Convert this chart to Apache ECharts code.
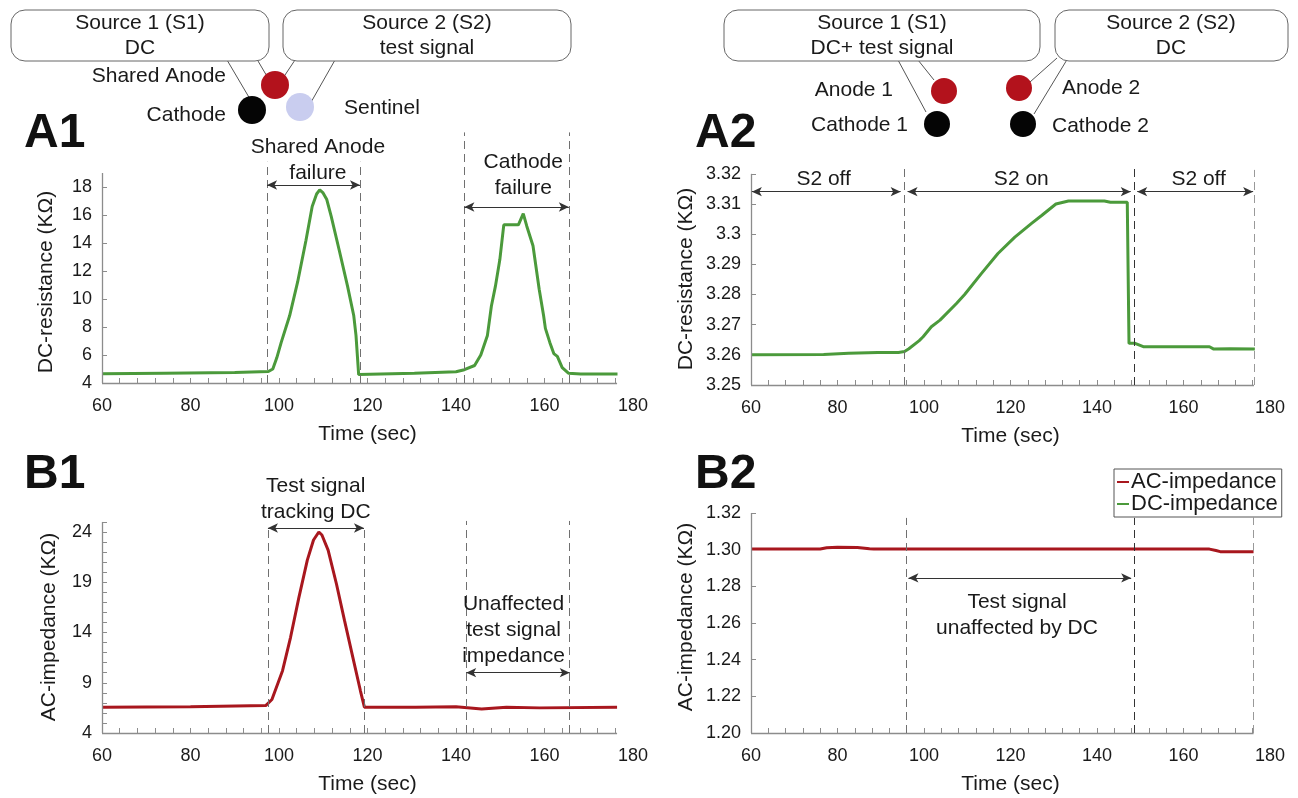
<!DOCTYPE html>
<html><head><meta charset="utf-8">
<script src="https://cdn.jsdelivr.net/npm/echarts@6/dist/echarts.min.js"></script>
<style>html,body{margin:0;padding:0;background:#fff}#c{width:1298px;height:798px}</style>
</head><body><div id="c"></div>
<script>
const FONT = '"Liberation Sans", Arial, Helvetica, sans-serif';

// ---------- data ----------
const a1Time = [60, 74, 90, 97.6, 98.6, 99.5, 100.5, 102.4, 104.2, 106.1, 107.5, 108.5, 109.2, 109.9, 110.8, 111.8, 113.6, 115.5, 116.9, 117.4, 118.0, 118.4, 130.6, 140, 141.9, 144.2, 145.6, 147.1, 148, 148.9, 149.9, 150.8, 151.5, 154.1, 155.2, 156, 157.4, 158.8, 159.8, 160.2, 161.2, 162.1, 162.9, 164, 165.4, 168.2, 176.5];
const a1Res  = [4.66, 4.7, 4.75, 4.82, 5.0, 5.8, 6.9, 8.8, 11.2, 14.2, 16.6, 17.5, 17.8, 17.6, 17.1, 15.9, 13.5, 10.9, 8.8, 7.4, 4.6, 4.66, 4.7, 4.8, 4.95, 5.25, 6.0, 7.4, 9.5, 10.9, 12.8, 15.3, 15.3, 15.3, 16.1, 15.2, 13.8, 10.7, 8.8, 7.9, 6.9, 6.1, 5.9, 5.1, 4.7, 4.65, 4.65];

const a2Time = [60, 76.8, 82.6, 89.3, 94.1, 95.5, 96.5, 98.9, 99.8, 101.7, 103.7, 107.5, 109.4, 113.3, 117.1, 121, 124.8, 127.2, 130.5, 133.4, 141.7, 143.1, 147.0, 147.4, 148.8, 150.7, 156.4, 166, 167, 170.8, 176.5];
const a2Res  = [3.2600, 3.2601, 3.2605, 3.2608, 3.2608, 3.2611, 3.2620, 3.2647, 3.2660, 3.2693, 3.2715, 3.2770, 3.2800, 3.2870, 3.2936, 3.2990, 3.3035, 3.3062, 3.3100, 3.3110, 3.3110, 3.3106, 3.3106, 3.2638, 3.2638, 3.2627, 3.2627, 3.2627, 3.2619, 3.2620, 3.2619];

const b1Time = [60, 80, 97, 98.4, 100.8, 102.6, 104.5, 106.4, 107.8, 109, 109.7, 111.1, 113, 114.8, 116.7, 118.4, 119.3, 130.8, 140, 145.8, 151.4, 158.9, 176.4];
const b1Imp  = [6.57, 6.62, 6.73, 7.33, 10.2, 13.5, 17.5, 21.2, 23.2, 24.0, 23.7, 22.2, 18.8, 15.2, 11.5, 8.2, 6.57, 6.57, 6.6, 6.4, 6.57, 6.5, 6.57];

const b2Time = [60, 76, 77.5, 80, 84.6, 87.4, 88.4, 120, 166, 167.5, 168.5, 176.2];
const b2Imp  = [1.3003, 1.3003, 1.3010, 1.3013, 1.3012, 1.3005, 1.3003, 1.3003, 1.3003, 1.2995, 1.2989, 1.2989];

// tick / label values
const xLabels = [60, 80, 100, 120, 140, 160, 180];
const xTicks = [60, 64, 68, 72, 76, 80, 84, 88, 92, 96, 100, 104, 108, 112, 116, 120, 124, 128, 132, 136, 140, 144, 148, 152, 156, 160, 164, 168, 172, 176];
const a1YLabels = [4, 6, 8, 10, 12, 14, 16, 18];
const a2YLabels = [3.25, 3.26, 3.27, 3.28, 3.29, 3.30, 3.31, 3.32];
const b1YLabels = [4, 9, 14, 19, 24];
const b1YTicks = [4,5,6,7,8,9,10,11,12,13,14,15,16,17,18,19,20,21,22,23,24,25];
const b2YLabels = [1.20, 1.22, 1.24, 1.26, 1.28, 1.30, 1.32];

const GREEN = '#4b9a3b', RED = '#a8171e', AXIS = '#8c8c8c', DASH = '#707070', INK = '#1a1a1a';

const zip = (t, v) => t.map((x, i) => [x, v[i]]);

function axisL(x0, x1, y0, y1) {
  const ls = {color: AXIS, width: 1.3, type: 'solid'};
  return [[{coord: [x0, y0], lineStyle: ls}, {coord: [x1, y0]}],
          [{coord: [x0, y0], lineStyle: ls}, {coord: [x0, y1]}]];
}
function vdash(x, y0, y1, color) {
  return [{coord: [x, y0], lineStyle: {color: color || DASH, width: 1, type: [8, 5]}}, {coord: [x, y1]}];
}
function arrow(x0, x1, y) {
  return [{coord: [x0, y], symbol: 'arrow', symbolSize: [7, 10], lineStyle: {color: '#333', width: 1.2, type: 'solid'}},
          {coord: [x1, y], symbol: 'arrow', symbolSize: [7, 10]}];
}
function txt(x, y, text) {
  return {coord: [x, y], symbol: 'rect', symbolSize: 1, itemStyle: {color: 'rgba(0,0,0,0)'},
    label: {show: true, position: 'inside', formatter: text, color: INK, fontSize: 21, lineHeight: 26, fontFamily: FONT}};
}

function xAxisCfg(grid) {
  return {
    type: 'value', gridIndex: grid, min: 60, max: 180,
    name: 'Time (sec)', nameLocation: 'middle', nameGap: 41,
    nameTextStyle: {color: INK, fontSize: 21, fontFamily: FONT},
    axisLine: {show: false}, splitLine: {show: false},
    axisTick: {show: true, inside: true, length: 5, customValues: xTicks, lineStyle: {color: AXIS}},
    axisLabel: {customValues: xLabels, color: INK, fontSize: 18, fontFamily: FONT, margin: 14}
  };
}
function yAxisCfg(grid, min, max, labels, ticks, fmt) {
  return {
    type: 'value', gridIndex: grid, min: min, max: max,
    axisLine: {show: false}, splitLine: {show: false},
    axisTick: {show: true, inside: true, length: 5, customValues: ticks || labels, lineStyle: {color: AXIS}},
    axisLabel: {customValues: labels, color: INK, fontSize: 18, fontFamily: FONT, margin: 10,
      formatter: fmt || (v => String(+(+v).toFixed(2)))}
  };
}

const mlBase = {silent: true, symbol: 'none', label: {show: false}, animation: false, emphasis: {disabled: true}};
const mpBase = {silent: true, animation: false, emphasis: {disabled: true}};

const option = {
  animation: false,
  textStyle: {fontFamily: FONT},
  grid: [
    {left: 102, width: 531, top: 131, height: 252},
    {left: 751, width: 519, top: 166.3, height: 218.7},
    {left: 102, width: 531, top: 471.7, height: 261.3},
    {left: 751, width: 519, top: 509.3, height: 223.7}
  ],
  xAxis: [xAxisCfg(0), xAxisCfg(1), xAxisCfg(2), xAxisCfg(3)],
  yAxis: [
    yAxisCfg(0, 4, 22, a1YLabels),
    yAxisCfg(1, 3.25, 3.3225, a2YLabels),
    yAxisCfg(2, 4, 30, b1YLabels, b1YTicks),
    yAxisCfg(3, 1.20, 1.322, b2YLabels, null, v => (+v).toFixed(2))
  ],
  legend: {
    orient: 'vertical', left: 1114, top: 469,
    data: [{name: 'AC-impedance', icon: 'rect'}, {name: 'DC-impedance', icon: 'rect'}],
    itemWidth: 12, itemHeight: 2, itemGap: 0, padding: [2, 4, 2, 3],
    borderColor: '#555', borderWidth: 1, selectedMode: false,
    textStyle: {color: INK, fontSize: 22, fontFamily: FONT, lineHeight: 22, padding: [0, 0, 0, -3]}
  },
  series: [
    {
      name: 'A1 DC-resistance', type: 'line', xAxisIndex: 0, yAxisIndex: 0,
      data: zip(a1Time, a1Res), showSymbol: false, color: GREEN, lineStyle: {width: 3, color: GREEN},
      markLine: Object.assign({}, mlBase, {data: [
        ...axisL(60, 176.4, 4, 19),
        vdash(97.3, 4, 19.8), vdash(118.3, 4, 19.8), vdash(141.9, 4, 21.9), vdash(165.5, 4, 21.9),
        arrow(97.3, 118.3, 18.14), arrow(141.9, 165.5, 16.57)
      ]}),
      markPoint: Object.assign({}, mpBase, {data: [
        txt(108.8, 19.93, 'Shared Anode\nfailure'),
        txt(155.2, 18.86, 'Cathode\nfailure')
      ]})
    },
    {
      name: 'A2 DC-resistance', type: 'line', xAxisIndex: 1, yAxisIndex: 1,
      data: zip(a2Time, a2Res), showSymbol: false, color: GREEN, lineStyle: {width: 3, color: GREEN},
      markLine: Object.assign({}, mlBase, {data: [
        ...axisL(60, 176.3, 3.25, 3.32),
        vdash(95.4, 3.25, 3.3219), vdash(148.6, 3.25, 3.3219, '#333'), vdash(176.3, 3.25, 3.3213, '#999'),
        arrow(60.2, 94.6, 3.3141), arrow(96.2, 147.8, 3.3141), arrow(149.3, 176.1, 3.3141)
      ]}),
      markPoint: Object.assign({}, mpBase, {data: [
        txt(76.8, 3.3183, 'S2 off'),
        txt(122.5, 3.3183, 'S2 on'),
        txt(163.5, 3.3183, 'S2 off')
      ]})
    },
    {
      name: 'B1 AC-impedance', type: 'line', xAxisIndex: 2, yAxisIndex: 2,
      data: zip(b1Time, b1Imp), showSymbol: false, color: RED, lineStyle: {width: 3, color: RED},
      markLine: Object.assign({}, mlBase, {data: [
        ...axisL(60, 176.4, 4, 25),
        vdash(97.5, 4, 24.6), vdash(119.2, 4, 24.6), vdash(142.3, 4, 25.1), vdash(165.7, 4, 25.1),
        arrow(97.5, 119.2, 24.4), arrow(142.3, 165.7, 10.0)
      ]}),
      markPoint: Object.assign({}, mpBase, {data: [
        txt(108.3, 27.3, 'Test signal\ntracking DC'),
        txt(153.0, 14.25, 'Unaffected\ntest signal\nimpedance')
      ]})
    },
    {
      name: 'AC-impedance', type: 'line', xAxisIndex: 3, yAxisIndex: 3,
      data: zip(b2Time, b2Imp), showSymbol: false, color: RED, lineStyle: {width: 3, color: RED},
      markLine: Object.assign({}, mlBase, {data: [
        ...axisL(60, 176.2, 1.20, 1.32),
        vdash(96.0, 1.20, 1.3173), vdash(148.5, 1.20, 1.3173, '#333'), vdash(176.2, 1.20, 1.32, '#999'),
        arrow(96.4, 147.9, 1.2846)
      ]}),
      markPoint: Object.assign({}, mpBase, {data: [
        txt(121.5, 1.2644, 'Test signal\nunaffected by DC')
      ]})
    },
    {
      name: 'DC-impedance', type: 'line', xAxisIndex: 3, yAxisIndex: 3,
      data: [], showSymbol: false, color: GREEN, lineStyle: {width: 3, color: GREEN}
    }
  ],
  graphic: [
    // panel labels
    {type: 'text', x: 24, y: 134, style: {text: 'A1', fontSize: 48, fontWeight: 'bold', fontFamily: FONT, fill: '#111', verticalAlign: 'middle'}},
    {type: 'text', x: 695, y: 134, style: {text: 'A2', fontSize: 48, fontWeight: 'bold', fontFamily: FONT, fill: '#111', verticalAlign: 'middle'}},
    {type: 'text', x: 24, y: 475, style: {text: 'B1', fontSize: 48, fontWeight: 'bold', fontFamily: FONT, fill: '#111', verticalAlign: 'middle'}},
    {type: 'text', x: 695, y: 475, style: {text: 'B2', fontSize: 48, fontWeight: 'bold', fontFamily: FONT, fill: '#111', verticalAlign: 'middle'}},
    // y axis names
    {type: 'text', x: 46, y: 282, rotation: Math.PI / 2, style: {text: 'DC-resistance (KΩ)', fontSize: 21, fontFamily: FONT, fill: INK, align: 'center', verticalAlign: 'middle'}},
    {type: 'text', x: 686, y: 279, rotation: Math.PI / 2, style: {text: 'DC-resistance (KΩ)', fontSize: 21, fontFamily: FONT, fill: INK, align: 'center', verticalAlign: 'middle'}},
    {type: 'text', x: 49, y: 627, rotation: Math.PI / 2, style: {text: 'AC-impedance (KΩ)', fontSize: 21, fontFamily: FONT, fill: INK, align: 'center', verticalAlign: 'middle'}},
    {type: 'text', x: 686, y: 617, rotation: Math.PI / 2, style: {text: 'AC-impedance (KΩ)', fontSize: 21, fontFamily: FONT, fill: INK, align: 'center', verticalAlign: 'middle'}},

    // ---- A1 diagram ----
    {type: 'line', shape: {x1: 227, y1: 60, x2: 250, y2: 99}, style: {stroke: '#555', lineWidth: 1}},
    {type: 'line', shape: {x1: 258, y1: 61, x2: 268, y2: 78}, style: {stroke: '#555', lineWidth: 1}},
    {type: 'line', shape: {x1: 295, y1: 60, x2: 283, y2: 78}, style: {stroke: '#555', lineWidth: 1}},
    {type: 'line', shape: {x1: 335, y1: 60, x2: 310, y2: 104}, style: {stroke: '#555', lineWidth: 1}},
    {type: 'rect', shape: {x: 11, y: 10, width: 258, height: 51, r: 14}, style: {fill: '#fff', stroke: '#666', lineWidth: 1}},
    {type: 'rect', shape: {x: 283, y: 10, width: 288, height: 51, r: 14}, style: {fill: '#fff', stroke: '#666', lineWidth: 1}},
    {type: 'text', x: 140, y: 23, style: {text: 'Source 1 (S1)', fontSize: 21, fontFamily: FONT, fill: INK, align: 'center', verticalAlign: 'middle'}},
    {type: 'text', x: 140, y: 48, style: {text: 'DC', fontSize: 21, fontFamily: FONT, fill: INK, align: 'center', verticalAlign: 'middle'}},
    {type: 'text', x: 427, y: 23, style: {text: 'Source 2 (S2)', fontSize: 21, fontFamily: FONT, fill: INK, align: 'center', verticalAlign: 'middle'}},
    {type: 'text', x: 427, y: 48, style: {text: 'test signal', fontSize: 21, fontFamily: FONT, fill: INK, align: 'center', verticalAlign: 'middle'}},
    {type: 'text', x: 226, y: 76, style: {text: 'Shared Anode', fontSize: 21, fontFamily: FONT, fill: INK, align: 'right', verticalAlign: 'middle'}},
    {type: 'text', x: 226, y: 115, style: {text: 'Cathode', fontSize: 21, fontFamily: FONT, fill: INK, align: 'right', verticalAlign: 'middle'}},
    {type: 'text', x: 344, y: 108, style: {text: 'Sentinel', fontSize: 21, fontFamily: FONT, fill: INK, align: 'left', verticalAlign: 'middle'}},
    {type: 'circle', shape: {cx: 275, cy: 85, r: 14}, style: {fill: '#b3121c'}},
    {type: 'circle', shape: {cx: 252, cy: 110, r: 14}, style: {fill: '#050505'}},
    {type: 'circle', shape: {cx: 300, cy: 107, r: 14}, style: {fill: '#c9cdef'}},

    // ---- A2 diagram ----
    {type: 'line', shape: {x1: 898, y1: 60, x2: 926, y2: 112}, style: {stroke: '#555', lineWidth: 1}},
    {type: 'line', shape: {x1: 918, y1: 60, x2: 934, y2: 80}, style: {stroke: '#555', lineWidth: 1}},
    {type: 'line', shape: {x1: 1057, y1: 58, x2: 1030, y2: 82}, style: {stroke: '#555', lineWidth: 1}},
    {type: 'line', shape: {x1: 1068, y1: 58, x2: 1034, y2: 114}, style: {stroke: '#555', lineWidth: 1}},
    {type: 'rect', shape: {x: 724, y: 10, width: 316, height: 51, r: 14}, style: {fill: '#fff', stroke: '#666', lineWidth: 1}},
    {type: 'rect', shape: {x: 1055, y: 10, width: 233, height: 51, r: 14}, style: {fill: '#fff', stroke: '#666', lineWidth: 1}},
    {type: 'text', x: 882, y: 23, style: {text: 'Source 1 (S1)', fontSize: 21, fontFamily: FONT, fill: INK, align: 'center', verticalAlign: 'middle'}},
    {type: 'text', x: 882, y: 48, style: {text: 'DC+ test signal', fontSize: 21, fontFamily: FONT, fill: INK, align: 'center', verticalAlign: 'middle'}},
    {type: 'text', x: 1171, y: 23, style: {text: 'Source 2 (S2)', fontSize: 21, fontFamily: FONT, fill: INK, align: 'center', verticalAlign: 'middle'}},
    {type: 'text', x: 1171, y: 48, style: {text: 'DC', fontSize: 21, fontFamily: FONT, fill: INK, align: 'center', verticalAlign: 'middle'}},
    {type: 'text', x: 893, y: 90, style: {text: 'Anode 1', fontSize: 21, fontFamily: FONT, fill: INK, align: 'right', verticalAlign: 'middle'}},
    {type: 'text', x: 908, y: 125, style: {text: 'Cathode 1', fontSize: 21, fontFamily: FONT, fill: INK, align: 'right', verticalAlign: 'middle'}},
    {type: 'text', x: 1062, y: 88, style: {text: 'Anode 2', fontSize: 21, fontFamily: FONT, fill: INK, align: 'left', verticalAlign: 'middle'}},
    {type: 'text', x: 1052, y: 126, style: {text: 'Cathode 2', fontSize: 21, fontFamily: FONT, fill: INK, align: 'left', verticalAlign: 'middle'}},
    {type: 'circle', shape: {cx: 944, cy: 91, r: 13}, style: {fill: '#b3121c'}},
    {type: 'circle', shape: {cx: 1019, cy: 88, r: 13}, style: {fill: '#b3121c'}},
    {type: 'circle', shape: {cx: 937, cy: 124, r: 13}, style: {fill: '#050505'}},
    {type: 'circle', shape: {cx: 1023, cy: 124, r: 13}, style: {fill: '#050505'}}
  ]
};

const chart = echarts.init(document.getElementById('c'), null, {renderer: 'canvas'});
chart.setOption(option);
</script>
</body></html>
